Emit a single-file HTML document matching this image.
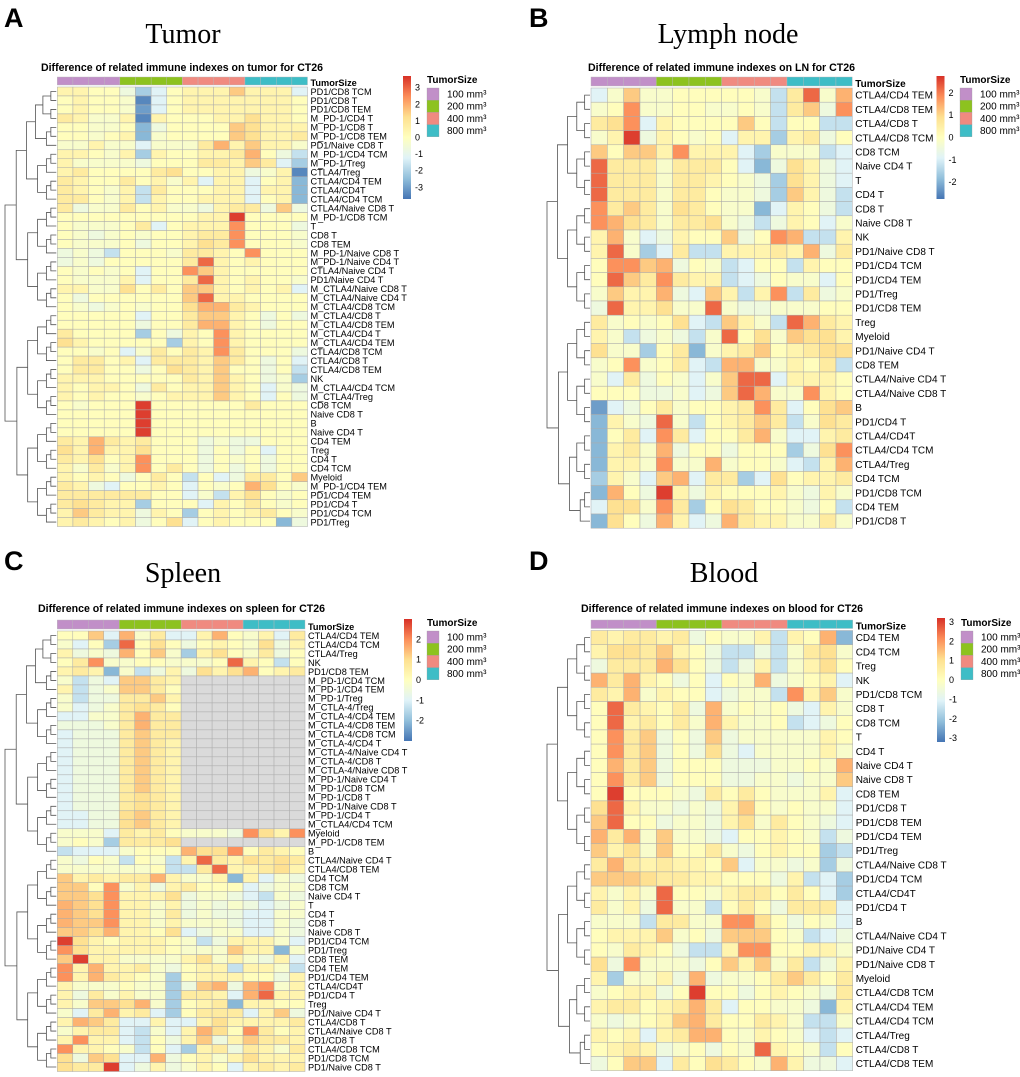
<!DOCTYPE html>
<html><head><meta charset="utf-8"><style>
html,body{margin:0;padding:0;background:#fff}
svg{display:block}
text{font-family:"Liberation Sans",Arial,sans-serif}
</style></head><body>
<svg id="fig" width="1020" height="1077" viewBox="0 0 1020 1077" xmlns="http://www.w3.org/2000/svg">
<text x="4" y="27" font-size="27" font-weight="bold">A</text>
<text x="529" y="27" font-size="27" font-weight="bold">B</text>
<text x="4" y="570" font-size="27" font-weight="bold">C</text>
<text x="529" y="570" font-size="27" font-weight="bold">D</text>
<text x="183" y="43" font-size="28" text-anchor="middle" style="font-family:'Liberation Serif',serif">Tumor</text>
<text x="728" y="43" font-size="28" text-anchor="middle" style="font-family:'Liberation Serif',serif">Lymph node</text>
<text x="183" y="582" font-size="28" text-anchor="middle" style="font-family:'Liberation Serif',serif">Spleen</text>
<text x="724" y="582" font-size="28" text-anchor="middle" style="font-family:'Liberation Serif',serif">Blood</text>
<text x="41" y="71" font-size="11" font-weight="bold" textLength="282" lengthAdjust="spacingAndGlyphs">Difference of related immune indexes on tumor for CT26</text>
<text x="588" y="71" font-size="11" font-weight="bold" textLength="267" lengthAdjust="spacingAndGlyphs">Difference of related immune indexes on LN for CT26</text>
<text x="38" y="612" font-size="11" font-weight="bold" textLength="287" lengthAdjust="spacingAndGlyphs">Difference of related immune indexes on spleen for CT26</text>
<text x="581" y="612" font-size="11" font-weight="bold" textLength="282" lengthAdjust="spacingAndGlyphs">Difference of related immune indexes on blood for CT26</text>
</svg>
<script>
// ---- shared data ----
const groupLabels = ["100 mm³","200 mm³","400 mm³","800 mm³"];
const groupColors = ["#C18FC8","#8DC21F","#F08A80","#3EBDC6"];
const sampleGroups = [0,0,0,0,1,1,1,1,2,2,2,2,3,3,3,3];
// cell codes -> fraction of colour-scale half range ('x' = NA)
const codeFrac = {"0":-0.07,"1":0.02,"2":0.12,"3":0.22,"4":0.32,"5":0.42,"6":0.52,"7":0.65,"8":0.8,"9":0.95,
  "a":-0.18,"b":-0.32,"c":-0.45,"d":-0.58,"e":-0.7,"f":-0.82,"g":-0.92};

// ---- Panel A: tumor ----
const rowsA = ["PD1/CD8 TCM","PD1/CD8 T","PD1/CD8 TEM","M_PD-1/CD4 T","M_PD-1/CD8 T","M_PD-1/CD8 TEM","PD1/Naive CD8 T","M_PD-1/CD4 TCM","M_PD-1/Treg","CTLA4/Treg","CTLA4/CD4 TEM","CTLA4/CD4T","CTLA4/CD4 TCM","CTLA4/Naive CD8 T","M_PD-1/CD8 TCM","T","CD8 T","CD8 TEM","M_PD-1/Naive CD8 T","M_PD-1/Naive CD4 T","CTLA4/Naive CD4 T","PD1/Naive CD4 T","M_CTLA4/Naive CD8 T","M_CTLA4/Naive CD4 T","M_CTLA4/CD8 TCM","M_CTLA4/CD8 T","M_CTLA4/CD8 TEM","M_CTLA4/CD4 T","M_CTLA4/CD4 TEM","CTLA4/CD8 TCM","CTLA4/CD8 T","CTLA4/CD8 TEM","NK","M_CTLA4/CD4 TCM","M_CTLA4/Treg","CD8 TCM","Naive CD8 T","B","Naive CD4 T","CD4 TEM","Treg","CD4 T","CD4 TCM","Myeloid","M_PD-1/CD4 TEM","PD1/CD4 TEM","PD1/CD4 T","PD1/CD4 TCM","PD1/Treg"];
const valsA = ["2211adb12225222b","12110gb122222221","12110fb122222221","32002g2111224221","11001ea111154222","11012e0111154223","00200b0003625220","22102d21122361ac","20000a11133253bd","23111134112 2a02g".replace(" ",""),"32113120 2b22b12e".replace(" ",""),"32102c311122b22e","33102c211222b12e","3a0031200a233a5a","1111111112291111","100013b12227111a","10a0101123371110","10001a112437111 0".replace(" ",""),"a0ac111033217111","a0a1111138212111","10101b1175211111","10002b1138212110","2200413155212 12b".replace(" ",""),"1a11111158221111","10a0101146632111","11111b1135521a1a","11111a1136621a11","31111d1a21721111","4211111d21721111","1101b0313273111a","13312b3332531a1b","13311a1432511a1c","22211111 32521a0d".replace(" ",""),"21221a3122521b0a","2121101222521b1a","1011191111113111","1111191111111111","1111191111111111","1111191111111111","326323111a0aa111","426224111a1a1b11","324127111a101a11","203027131a1a1a11","2121a131c1ba3315","32ab1121b1016410","33333311b0c24101","34322d111b213101","25322a21d1212310","23212a14b12111ea"];
const maxA = 3.7, ticksA = [-3,-2,-1,0,1,2,3];

// ---- Panel B: lymph node ----
const rowsB = ["CTLA4/CD4 TEM","CTLA4/CD8 TEM","CTLA4/CD8 T","CTLA4/CD8 TCM","CD8 TCM","Naive CD4 T","T","CD4 T","CD8 T","Naive CD8 T","NK","PD1/Naive CD8 T","PD1/CD4 TCM","PD1/CD4 TEM","PD1/Treg","PD1/CD8 TEM","Treg","Myeloid","PD1/Naive CD4 T","CD8 TEM","CTLA4/Naive CD4 T","CTLA4/Naive CD8 T","B","PD1/CD4 T","CTLA4/CD4T","CTLA4/CD4 TCM","CTLA4/Treg","CD4 TCM","PD1/CD8 TCM","CD4 TEM","PD1/CD8 T"];
const valsB = ["b0500111110c3806","0170011001 0c35a7".replace(" ",""),"347b2111151c11cc","029a2101b22d23a1","515527222bd000cb","833303331bea42ab","8333033210ad42ab","8333033100ad52ac","7353043100eb21ac","764303340aca21b0","260ba2115a176cc2","280db3cc222326a3","17756a10cb11c211","18537322cba100b1","05226ab52c27c3a0","a8224008 0aa00011".replace(" ",""),"301014bc520c8632","20ca0ac081405442","400d13e023512344","017013bc6600213c","0b3a10b0588b2221","111aa0ba58600721","fba130112373b145","e20a80c12353c043","e13b73b11360bb23","e2306a11a111da47","e22070060110bc26","d20b56b33db41223","e61a92a211120a20","b44073d143110a1c","e41a62ba63220030"];
const maxB = 2.75, ticksB = [-2,-1,0,1,2];

// ---- Panel C: spleen ----
const rowsC = ["CTLA4/CD4 TEM","CTLA4/CD4 TCM","CTLA4/Treg","NK","PD1/CD8 TEM","M_PD-1/CD4 TCM","M_PD-1/CD4 TEM","M_PD-1/Treg","M_CTLA-4/Treg","M_CTLA-4/CD4 TEM","M_CTLA-4/CD8 TEM","M_CTLA-4/CD8 TCM","M_CTLA-4/CD4 T","M_CTLA-4/Naive CD4 T","M_CTLA-4/CD8 T","M_CTLA-4/Naive CD8 T","M_PD-1/Naive CD4 T","M_PD-1/CD8 TCM","M_PD-1/CD8 T","M_PD-1/Naive CD8 T","M_PD-1/CD4 T","M_CTLA4/CD4 TCM","Myeloid","M_PD-1/CD8 TEM","B","CTLA4/Naive CD4 T","CTLA4/CD8 TEM","CD4 TCM","CD8 TCM","Naive CD4 T","T","CD4 T","CD8 T","Naive CD8 T","PD1/CD4 TCM","PD1/Treg","CD8 TEM","CD4 TEM","PD1/CD4 TEM","CTLA4/CD4T","PD1/CD4 T","Treg","PD1/Naive CD4 T","CTLA4/CD8 T","CTLA4/Naive CD8 T","PD1/CD8 T","CTLA4/CD8 TCM","PD1/CD8 TCM","PD1/Naive CD8 T"];
const valsC = ["115b603bb26102b3","0b1d8141a12104a2","2a0a6150d24103a1","1370011000 1821c1".replace(" ",""),"232e0ca2a4246123","0cab5532xxxxxxxx","2ca05531xxxxxxxx","0caa3352xxxxxxxx","0ba03431xxxxxxxx","bb003633xxxxxxxx","aaa03633xxxxxxxx","baaa3533xxxxxxxx","baaa3532xxxxxxxx","baaa3532xxxxxxxx","baaa3532xxxxxxxx","baaa3532xxxxxxxx","baaa3532xxxxxxxx","baaa3532xxxxxxxx","baaa3432xxxxxxxx","baaa3432xxxxxxxx","bbaa4532xxxxxxxx","bbaa4532xxxxxxxx","000b3231000a7427","010d3334xxxxxxxx","cbbb011164471321","0a10c10c28324343","0000001cc3822342","52323362002e2b0a","551702a23111ba00","55472224a00abc0a","65472202a0a0aba0","65472203a0aabb00","65572202000abb0a","55462214ba00bb0a","942122210ca2220b","742222210 00522e0".replace(" ",""),"5922000024020a2b","7262230a122c220c","7263210d122211a2","2000100da56a6702","2a30200d332b6822","2055460d123e2211","0b3623bd1333b25a","2653bb2bb2422223","0233bc0b26417312","2722bc1a25a25332","72210c1bd23a3203","4a54bb6a12024222","4339ba2a021b2323"];
const maxC = 3.0, ticksC = [-2,-1,0,1,2];

// ---- Panel D: blood ----
const rowsD = ["CD4 TEM","CD4 TCM","Treg","NK","PD1/CD8 TCM","CD8 T","CD8 TCM","T","CD4 T","Naive CD4 T","Naive CD8 T","CD8 TEM","PD1/CD8 T","PD1/CD8 TEM","PD1/CD4 TEM","PD1/Treg","CTLA4/Naive CD8 T","PD1/CD4 TCM","CTLA4/CD4T","PD1/CD4 T","B","CTLA4/Naive CD4 T","PD1/Naive CD4 T","PD1/Naive CD8 T","Myeloid","CTLA4/CD8 TCM","CTLA4/CD4 TEM","CTLA4/CD4 TCM","CTLA4/Treg","CTLA4/CD8 T","CTLA4/CD8 TEM"];
const valsD = ["323323a1002c216e","2443521accac0340","a333641aca2c0241","63621a1b106a012b","3260211ba00c7250","183213a60101ab20","182313062001cba1","1735a1a5a0000021","1735a1a4ab000020","1635a111aaa00106","1735a111aa00a005","191110a31310002b","48200a0a2510100b","5811a00a240310ab","6360500ab11210ca","524051130a1211dc","363232215b00a0da","55543322111a2cbd","2020811023313 1bd".replace(" ",""),"302a800c131a333b","000c33007741a10b","1222501a55510cba","10321acc27711220","4a7000a152503ca2","2d002a6a00135313","0122a1911a1210a3","23312363b1100ae2","0a01256311320cc0","212b236610210bcb","1232a01a108210c1","a155b31431062aab"];
const maxD = 3.2, ticksD = [-3,-2,-1,0,1,2,3];

// ---- rendering ----
const NS = "http://www.w3.org/2000/svg";
const svg = document.getElementById("fig");
const stops = ["#4575B4","#91BFDB","#E0F3F8","#FFFFBF","#FEE090","#FC8D59","#D73027"];
function hex(c){return [parseInt(c.slice(1,3),16),parseInt(c.slice(3,5),16),parseInt(c.slice(5,7),16)];}
function colorOf(v,max){
  let f=Math.max(-1,Math.min(1,v/max)); let p=(f+1)/2*6; let i=Math.min(5,Math.floor(p)); let t=p-i;
  const a=hex(stops[i]),b=hex(stops[i+1]);
  return "rgb("+a.map((x,k)=>Math.round(x+(b[k]-x)*t)).join(",")+")";
}
function mk(tag,attrs,parent){const e=document.createElementNS(NS,tag);for(const k in attrs)e.setAttribute(k,attrs[k]);(parent||svg).appendChild(e);return e;}
function decode(code,max){return code==="x"?NaN:codeFrac[code]*max;}

function drawPanel(key,rows,vals,max,ticks,L){
  const g=mk("g",{});
  
  
  const n=sampleGroups.length, cw=(L.x1-L.x0)/n;
  const xScale=j=>L.x0+j*cw, yScale=i=>L.top+i*L.rh;
  // annotation bar
  sampleGroups.forEach((gi,j)=>{
    const r=mk("rect",{x:xScale(j),y:L.ay,width:cw,height:L.top-2-L.ay,fill:groupColors[gi],stroke:"#b9b9b9","stroke-width":0.4},g);
    
    
  });
  const ts=mk("text",{x:L.x1+3,y:L.top-1,"font-size":L.fs,"font-weight":"bold"},g); ts.textContent="TumorSize";
  
  
  // cells
  rows.forEach((name,i)=>{
    const s=vals[i];
    for(let j=0;j<n;j++){
      const v=decode(s[j],max);
      const r=mk("rect",{x:xScale(j),y:yScale(i),width:cw,height:L.rh,fill:isNaN(v)?"#DADADA":colorOf(v,max),stroke:"#ababab","stroke-width":0.5},g);
      
      
    }
    const t=mk("text",{x:L.x1+3,y:yScale(i)+L.rh/2+L.fs*0.36,"font-size":L.fs},g); t.textContent=name;
    
    
  });
  // row dendrogram (balanced binary tree)
  const N=rows.length;
  function dend(lo,hi){
    if(lo===hi) return {y:yScale(lo)+L.rh/2,x:L.x0-1};
    const mid=Math.floor((lo+hi)/2);
    const a=dend(lo,mid),b=dend(mid+1,hi);
    const sz=hi-lo+1;
    const x=L.x0-1-(L.x0-1-L.dx)*Math.pow(Math.log(sz)/Math.log(N),1.3);
    const p=mk("path",{d:`M${a.x},${a.y}H${x}V${b.y}H${b.x}`,fill:"none",stroke:"#555","stroke-width":0.8},g);
    
    
    return {x:x,y:(a.y+b.y)/2};
  }
  dend(0,N-1);
  // colour bar
  const defs=mk("defs",{},g);
  const lg=mk("linearGradient",{id:"grad"+key,x1:0,y1:1,x2:0,y2:0},defs);
  stops.forEach((c,k)=>mk("stop",{offset:k/6,"stop-color":c},lg));
  const cb=mk("rect",{x:L.cbx,y:L.cby0,width:8,height:L.cby1-L.cby0,fill:`url(#grad${key})`},g);
  
  
  const mid=(L.cby0+L.cby1)/2, ppu=(L.cby1-L.cby0)/2/max;
  ticks.forEach(tv=>{
    const t=mk("text",{x:L.cbx+12,y:mid-tv*ppu+3,"font-size":9},g); t.textContent=String(tv);
    
    
  });
  // group legend
  const lt=mk("text",{x:L.lx,y:L.ly,"font-size":10,"font-weight":"bold"},g); lt.textContent="TumorSize";
  
  
  groupLabels.forEach((lab,k)=>{
    const r=mk("rect",{x:L.lx,y:L.ly+5+k*12.2,width:12,height:12.2,fill:groupColors[k],stroke:"#999","stroke-width":0.3},g);
    
    
    const t=mk("text",{x:L.lx+20,y:L.ly+5+k*12.2+9.5,"font-size":10},g); t.textContent=lab;
    
    
  });
}
drawPanel("a",rowsA,valsA,maxA,ticksA,{x0:57.3,x1:307.5,ay:77,top:87,rh:8.97,fs:9.2,dx:5,cbx:403,cby0:76,cby1:199,lx:427,ly:83});
drawPanel("b",rowsB,valsB,maxB,ticksB,{x0:591,x1:852.3,ay:77,top:88,rh:14.2,fs:10,dx:547,cbx:936.5,cby0:76,cby1:199,lx:960,ly:83});
drawPanel("c",rowsC,valsC,maxC,ticksC,{x0:57.3,x1:305,ay:620,top:631,rh:8.99,fs:9.2,dx:5,cbx:404,cby0:619,cby1:741,lx:427,ly:626});
drawPanel("d",rowsD,valsD,maxD,ticksD,{x0:591,x1:852.7,ay:620,top:630.5,rh:14.2,fs:10,dx:547,cbx:937,cby0:618,cby1:742,lx:961,ly:626});
</script>
</body></html>
